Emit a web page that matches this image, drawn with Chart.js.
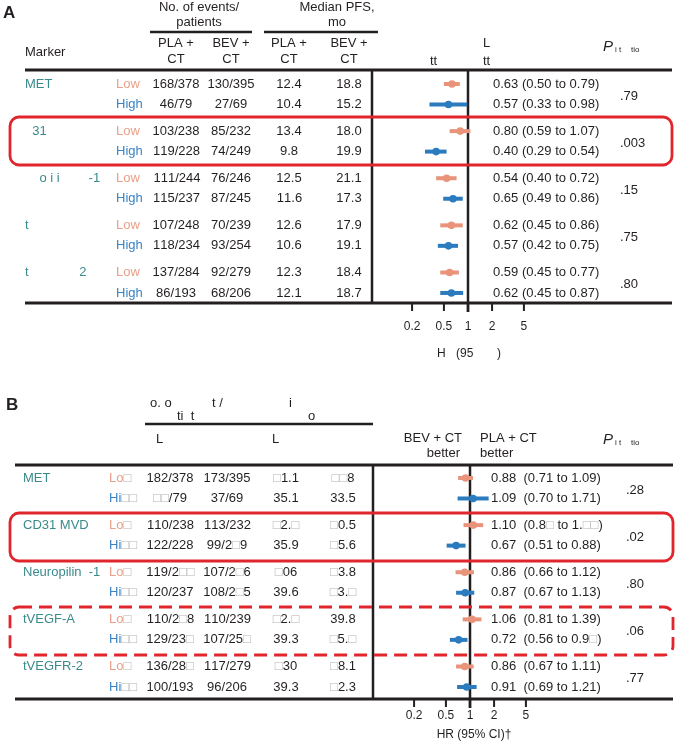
<!DOCTYPE html>
<html>
<head>
<meta charset="utf-8">
<script src="https://cdn.jsdelivr.net/npm/chart.js@4.4.1/dist/chart.umd.min.js"></script>
<style>
html, body { margin: 0; padding: 0; background: #fff; }
#wrap { position: relative; width: 678px; height: 741px; }
#wrap canvas { position: absolute; left: 0; top: 0; }
</style>
</head>
<body>
<div id="wrap">
  <canvas id="chartA" width="678" height="741"></canvas>
  <canvas id="chartB" width="678" height="741"></canvas>
</div>
<script>
// --- DONNÉES PANNEAU A ---
const markersA = ['MET', '  31', '    o i i        -1', 't', 't              2'];
const levelsA = ['Low', 'High'];
const eventsPlaA = ['168/378', '46/79', '103/238', '119/228', '111/244', '115/237', '107/248', '118/234', '137/284', '86/193'];
const eventsBevA = ['130/395', '27/69', '85/232', '74/249', '76/246', '87/245', '70/239', '93/254', '92/279', '68/206'];
const pfsPlaA = ['12.4', '10.4', '13.4', '9.8', '12.5', '11.6', '12.6', '10.6', '12.3', '12.1'];
const pfsBevA = ['18.8', '15.2', '18.0', '19.9', '21.1', '17.3', '17.9', '19.1', '18.4', '18.7'];
const hrA = [0.63, 0.57, 0.80, 0.40, 0.54, 0.65, 0.62, 0.57, 0.59, 0.62];
const loA = [0.50, 0.33, 0.59, 0.29, 0.40, 0.49, 0.45, 0.42, 0.45, 0.45];
const hiA = [0.79, 0.98, 1.07, 0.54, 0.72, 0.86, 0.86, 0.75, 0.77, 0.87];
const pA = ['.79', '.003', '.15', '.75', '.80'];

// --- DONNÉES PANNEAU B ---
const markersB = ['MET', 'CD31 MVD', 'Neuropilin  -1', 'tVEGF-A', 'tVEGFR-2'];
const levelsB = ['Lo□', 'Hi□□'];
const eventsPlaB = ['182/378', '□□/79', '110/238', '122/228', '119/2□□', '120/237', '110/2□8', '129/23□', '136/28□', '100/193'];
const eventsBevB = ['173/395', '37/69', '113/232', '99/2□9', '107/2□6', '108/2□5', '110/239', '107/25□', '117/279', '96/206'];
const osPlaB = ['□1.1', '35.1', '□2.□', '35.9', '□06', '39.6', '□2.□', '39.3', '□30', '39.3'];
const osBevB = ['□□8', '33.5', '□0.5', '□5.6', '□3.8', '□3.□', '39.8', '□5.□', '□8.1', '□2.3'];
const hrB = [0.88, 1.09, 1.10, 0.67, 0.86, 0.87, 1.06, 0.72, 0.86, 0.91];
const loB = [0.71, 0.70, 0.83, 0.51, 0.66, 0.67, 0.81, 0.56, 0.67, 0.69];
const hiB = [1.09, 1.71, 1.46, 0.88, 1.12, 1.13, 1.39, 0.93, 1.11, 1.21];
const hrTextB = ['0.88  (0.71 to 1.09)', '1.09  (0.70 to 1.71)', '1.10  (0.8□ to 1.□□)', '0.67  (0.51 to 0.88)',
  '0.86  (0.66 to 1.12)', '0.87  (0.67 to 1.13)', '1.06  (0.81 to 1.39)', '0.72  (0.56 to 0.9□)',
  '0.86  (0.67 to 1.11)', '0.91  (0.69 to 1.21)'];
const pB = ['.28', '.02', '.80', '.06', '.77'];

const hrTicks = [0.2, 0.5, 1, 2, 5];
const hrTickLabels = ['0.2', '0.5', '1', '2', '5'];

// --- STYLE ---
const FONT = '"Liberation Sans", Arial, Helvetica, sans-serif';
const INK = '#231f20', LOW = '#e8937a', HIGH = '#2b7bbf';
const LOWTXT = '#e9a089', HIGHTXT = '#3a84c6', TEAL = '#3a8a8b', RED = '#e0262c', BOXC = '#b5b5b5';

// deux lignes par marqueur, un petit écart entre les groupes
const rowY = i => Math.floor(i / 2) * 2.3 + (i % 2);

function txt(ctx, s, x, y, o = {}) {
    ctx.font = `${o.style || ''} ${o.weight || ''} ${o.size || 13}px ${FONT}`;
    ctx.fillStyle = o.color || INK;
    ctx.textAlign = o.align || 'left';
    ctx.textBaseline = 'middle';
    ctx.fillText(s, x, y);
}

// texte avec les glyphes manquants (□) en gris clair
function mixed(ctx, s, x, y, color, align) {
    ctx.font = `13px ${FONT}`;
    ctx.textAlign = 'left';
    ctx.textBaseline = 'middle';
    const w = ctx.measureText(s).width;
    let cx = align === 'center' ? x - w / 2 : x;
    for (const ch of s) {
        ctx.fillStyle = ch === '□' ? BOXC : color;
        ctx.fillText(ch, cx, y);
        cx += ctx.measureText(ch).width;
    }
}

function line(ctx, x1, y1, x2, y2, w, color) {
    ctx.strokeStyle = color || INK;
    ctx.lineWidth = w;
    ctx.beginPath();
    ctx.moveTo(x1, y1);
    ctx.lineTo(x2, y2);
    ctx.stroke();
}

function pHeader(ctx, x, y) {
    txt(ctx, 'P', x, y, { style: 'italic', size: 15 });
    txt(ctx, 'i t', x + 12, y + 3, { size: 8 });
    txt(ctx, 'tio', x + 28, y + 3, { size: 8 });
}

function redBox(ctx, x, y, w, h, dashed) {
    ctx.save();
    ctx.strokeStyle = RED;
    ctx.lineWidth = 2.8;
    if (dashed) ctx.setLineDash([13, 7]);
    ctx.beginPath();
    ctx.roundRect(x, y, w, h, 9);
    ctx.stroke();
    ctx.restore();
}

function drawRows(c, d) {
    const { ctx, scales: { x, y } } = c;
    d.hr.forEach((v, i) => {
        const py = y.getPixelForValue(rowY(i));
        if (i % 2 === 0) mixed(ctx, d.markers[i / 2], d.cols[0], py, TEAL);
        mixed(ctx, d.levels[i % 2], d.cols[1], py, i % 2 ? HIGHTXT : LOWTXT);
        mixed(ctx, d.ev1[i], d.cols[2], py, INK, 'center');
        mixed(ctx, d.ev2[i], d.cols[3], py, INK, 'center');
        mixed(ctx, d.med1[i], d.cols[4], py, INK, 'center');
        mixed(ctx, d.med2[i], d.cols[5], py, INK, 'center');
        mixed(ctx, d.hrText[i], d.cols[6], py, INK);
    });
    d.p.forEach((s, g) => {
        const py = (y.getPixelForValue(rowY(2 * g)) + y.getPixelForValue(rowY(2 * g + 1))) / 2 + 2;
        mixed(ctx, s, d.cols[7], py, INK);
    });
}

function drawAxis(c, labelY) {
    const { ctx, chartArea: ca, scales: { x } } = c;
    hrTicks.forEach((t, k) => {
        const px = x.getPixelForValue(t);
        line(ctx, px, ca.bottom, px, ca.bottom + (t === 1 ? 9 : 8), t === 1 ? 2.8 : 2);
        txt(ctx, hrTickLabels[k], px, labelY, { size: 12, align: 'center' });
    });
}

// --- PANNEAU A ---
function drawA(c) {
    const { ctx, chartArea: ca, scales: { x } } = c;
    const one = x.getPixelForValue(1);
    txt(ctx, 'A', 3, 13, { size: 17, weight: 'bold' });
    txt(ctx, 'No. of events/', 199, 7, { align: 'center' });
    txt(ctx, 'patients', 199, 22, { align: 'center' });
    txt(ctx, 'Median PFS,', 337, 7, { align: 'center' });
    txt(ctx, 'mo', 337, 22, { align: 'center' });
    line(ctx, 150, 32, 252, 32, 2.5);
    line(ctx, 264, 32, 378, 32, 2.5);
    txt(ctx, 'Marker', 25, 52);
    [[176, 'PLA +'], [231, 'BEV +'], [289, 'PLA +'], [349, 'BEV +']].forEach(([cx, s]) => {
        txt(ctx, s, cx, 43, { align: 'center' });
        txt(ctx, 'CT', cx, 59, { align: 'center' });
    });
    txt(ctx, 'tt', 430, 61);
    txt(ctx, 'L', 483, 43);
    txt(ctx, 'tt', 483, 61);
    pHeader(ctx, 603, 47);

    line(ctx, 25, ca.top, 672, ca.top, 3);
    line(ctx, 25, ca.bottom, 672, ca.bottom, 3);
    line(ctx, ca.left, ca.top, ca.left, ca.bottom, 2.5);
    line(ctx, one, ca.top, one, ca.bottom, 2.5);

    drawRows(c, {
        hr: hrA, markers: markersA, levels: levelsA, ev1: eventsPlaA, ev2: eventsBevA, med1: pfsPlaA, med2: pfsBevA,
        hrText: hrA.map((v, i) => `${v.toFixed(2)} (${loA[i].toFixed(2)} to ${hiA[i].toFixed(2)})`),
        p: pA, cols: [25, 116, 176, 231, 289, 349, 493, 620]
    });
    drawAxis(c, 327);
    txt(ctx, 'H', 437, 354, { size: 12 });
    txt(ctx, '(95', 456, 354, { size: 12 });
    txt(ctx, ')', 497, 354, { size: 12 });
}

// --- PANNEAU B ---
function drawB(c) {
    const { ctx, chartArea: ca, scales: { x } } = c;
    const one = x.getPixelForValue(1);
    txt(ctx, 'B', 6, 405, { size: 17, weight: 'bold' });
    txt(ctx, 'o. o', 150, 403);
    txt(ctx, 't /', 212, 403);
    txt(ctx, 'i', 289, 403);
    txt(ctx, 'ti  t', 177, 416);
    txt(ctx, 'o', 308, 416);
    line(ctx, 145, 424, 373, 424, 2.5);
    txt(ctx, 'L', 156, 439);
    txt(ctx, 'L', 272, 439);
    txt(ctx, 'BEV + CT', 462, 438, { align: 'right' });
    txt(ctx, 'better', 460, 453, { align: 'right' });
    txt(ctx, 'PLA + CT', 480, 438);
    txt(ctx, 'better', 480, 453);
    pHeader(ctx, 603, 440);

    line(ctx, 15, ca.top, 673, ca.top, 3);
    line(ctx, 15, ca.bottom, 673, ca.bottom, 3);
    line(ctx, ca.left, ca.top, ca.left, ca.bottom, 2.5);
    line(ctx, one, ca.top, one, ca.bottom, 2.5);

    drawRows(c, {
        hr: hrB, markers: markersB, levels: levelsB, ev1: eventsPlaB, ev2: eventsBevB, med1: osPlaB, med2: osBevB,
        hrText: hrTextB, p: pB, cols: [23, 109, 170, 227, 286, 343, 491, 626]
    });
    drawAxis(c, 716);
    txt(ctx, 'HR (95% CI)†', 474, 735, { size: 12, align: 'center' });
}

// --- GRAPHIQUE EN FORÊT ---
function forest(id, hr, lo, hi, xRange, yRange, padding, drawTable, drawBoxes) {
    return new Chart(document.getElementById(id), {
        type: 'scatter',
        data: {
            datasets: [{
                data: hr.map((v, i) => ({ x: v, y: rowY(i) })),
                pointRadius: 3.8,
                pointHoverRadius: 3.8,
                pointBorderWidth: 0,
                pointBackgroundColor: hr.map((v, i) => i % 2 ? HIGH : LOW)
            }]
        },
        options: {
            responsive: false,
            animation: false,
            events: [],
            layout: { padding },
            plugins: { legend: { display: false }, tooltip: { enabled: false } },
            scales: {
                x: { type: 'logarithmic', display: false, min: xRange[0], max: xRange[1] },
                y: { type: 'linear', display: false, reverse: true, min: yRange[0], max: yRange[1] }
            }
        },
        plugins: [{
            id: 'forest',
            beforeDatasetsDraw(c) {
                const { ctx, scales: { x, y } } = c;
                ctx.save();
                drawTable(c);
                // intervalles de confiance
                lo.forEach((l, i) => {
                    const py = y.getPixelForValue(rowY(i));
                    line(ctx, x.getPixelForValue(l), py, x.getPixelForValue(hi[i]), py, 4, i % 2 ? HIGH : LOW);
                });
                ctx.restore();
            },
            afterDraw(c) { drawBoxes(c.ctx); }
        }]
    });
}

forest('chartA', hrA, loA, hiA, [0.0631, 355], [-0.683, 10.69],
    { left: 372, right: 6, top: 70, bottom: 438 }, drawA,
    ctx => redBox(ctx, 10, 117, 662, 48, false));

forest('chartB', hrB, loB, hiB, [0.0613, 335], [-0.634, 10.786],
    { left: 373, right: 6, top: 465, bottom: 42 }, drawB,
    ctx => { redBox(ctx, 10, 513, 663, 48, false); redBox(ctx, 10, 607, 663, 48, true); });
</script>
</body>
</html>
